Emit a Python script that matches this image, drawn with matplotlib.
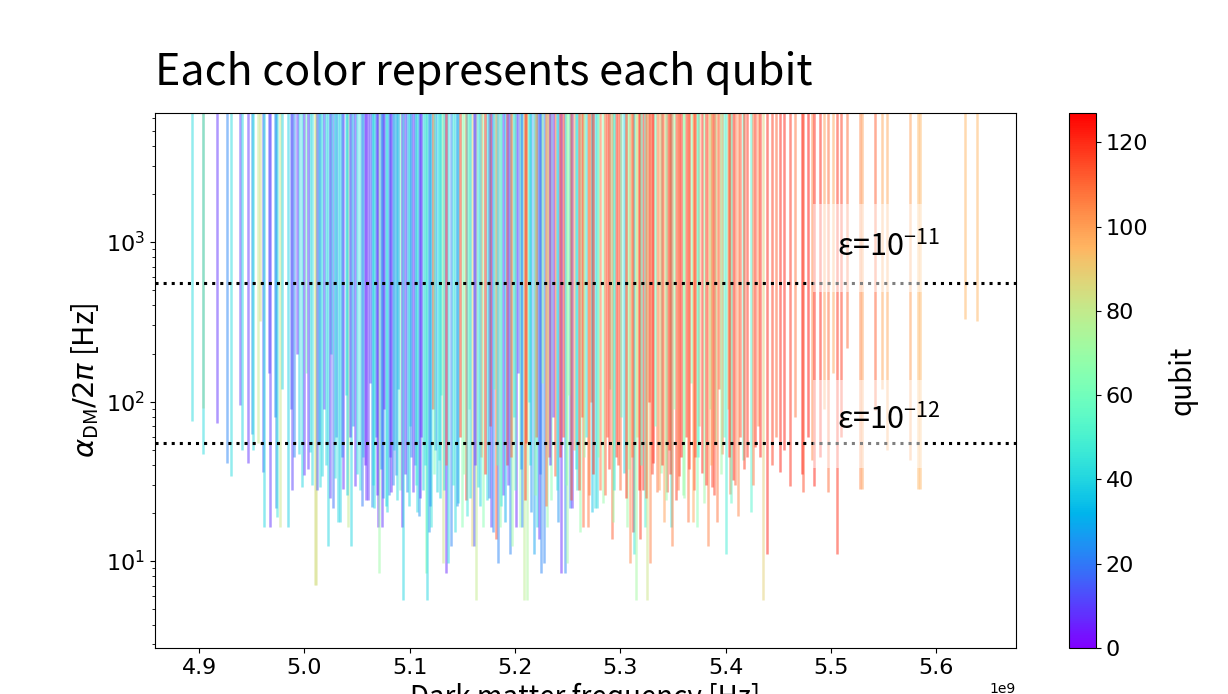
import numpy as np
import matplotlib.pyplot as plt
from matplotlib import colors, cm
from matplotlib.patches import Rectangle

plt.rcParams['font.family'] = ['DejaVu Sans']
KR = ['Noto Sans CJK KR', 'DejaVu Sans']

# dark matter frequency of each line [GHz]
freq_ghz = [
    4.8934, 4.9038, 4.9040, 4.9171, 4.9266, 4.9304, 4.9389, 4.9408, 4.9465, 4.9503,
    4.9513, 4.9560, 4.9608, 4.9617, 4.9674, 4.9731, 4.9740, 4.9769, 4.9845, 4.9883,
    4.9950, 4.9580, 4.9665, 4.9722, 4.9790, 4.9870, 4.9925,
    4.9978, 4.9997, 5.0054, 5.0102, 5.0110, 5.0121, 5.0149, 5.0168, 5.0225, 5.0273,
    5.0320, 5.0339, 5.0368, 5.0415, 5.0443, 5.0481, 5.0529, 5.0586, 5.0605, 5.0643,
    5.0662, 5.0700, 5.0709, 5.0738, 5.0747, 5.0785, 5.0804, 5.0823, 5.0871, 5.0909,
    5.0928, 5.0937, 5.0975, 5.1032, 5.1070, 5.1089, 5.1127, 5.1156, 5.1165, 5.1184,
    5.1203, 5.1260, 5.1279, 5.1317, 5.1327,
    5.0010, 5.0190, 5.0250, 5.0300, 5.0390, 5.0460, 5.0560, 5.0620, 5.0680, 5.0760,
    5.0850, 5.0890, 5.1000, 5.1050, 5.1110, 5.1220, 5.1240, 5.1300,
    5.1346, 5.1365, 5.1393, 5.1431, 5.1460, 5.1498, 5.1536, 5.1545, 5.1593, 5.1612,
    5.1631, 5.1650, 5.1697, 5.1735, 5.1773, 5.1792, 5.1821, 5.1840, 5.1859, 5.1887,
    5.1906, 5.1953, 5.1972, 5.2010, 5.2048, 5.2067, 5.2086, 5.2115, 5.2153, 5.2181,
    5.2210, 5.2229, 5.2248, 5.2276, 5.2305, 5.2343, 5.2381, 5.2409, 5.2438, 5.2476,
    5.2495, 5.2523, 5.2542, 5.2590, 5.2618, 5.2647, 5.2694,
    5.1480, 5.1560, 5.1680, 5.1760, 5.1800, 5.1920, 5.1990, 5.2030, 5.2100, 5.2130,
    5.2200, 5.2260, 5.2320, 5.2360, 5.2460, 5.2510, 5.2560, 5.2640, 5.2670, 5.2720,
    5.2732, 5.2761, 5.2780, 5.2808, 5.2837, 5.2922, 5.2932, 5.2998, 5.3036, 5.3065,
    5.3093, 5.3122, 5.3128, 5.3150, 5.3188, 5.3217, 5.3236, 5.3255, 5.3283, 5.3312,
    5.3350, 5.3387, 5.3416, 5.3444, 5.3482, 5.3492, 5.3530, 5.3558, 5.3596, 5.3644,
    5.3691, 5.3729, 5.3777, 5.3796, 5.3834, 5.3872, 5.3919, 5.3967, 5.4005, 5.4043,
    5.4071,
    5.2870, 5.2900, 5.2960, 5.3010, 5.3160, 5.3270, 5.3330, 5.3460, 5.3510, 5.3620,
    5.3670, 5.3710, 5.3750, 5.3850, 5.3900, 5.3940, 5.3990, 5.4020,
    5.4052, 5.4119, 5.4166, 5.4242, 5.4280, 5.4356, 5.4394, 5.4518, 5.4613, 5.4727,
    5.4736, 5.4821, 5.4840, 5.4973, 5.5059, 5.5154, 5.5277, 5.5296, 5.5420, 5.5486,
    5.5534, 5.5752, 5.5828, 5.5847, 5.6274, 5.6389,
    5.4140, 5.4200, 5.4310, 5.4440, 5.4480, 5.4560, 5.4660, 5.4780, 5.4900, 5.4940,
    5.5020, 5.5100,
    4.9905, 5.0035, 5.0075, 5.0135, 5.0205, 5.0240, 5.0290, 5.0355, 5.0405, 5.0430,
    5.0500, 5.0545, 5.0575, 5.0650, 5.0690, 5.0725, 5.0770, 5.0815, 5.0840, 5.0880,
    5.0955, 5.0990, 5.1015, 5.1060, 5.1100, 5.1145, 5.1195, 5.1235, 5.1290, 5.1340,
    5.1410, 5.1445, 5.1520, 5.1575, 5.1620, 5.1665, 5.1715, 5.1750, 5.1830, 5.1870,
    5.1935, 5.1960, 5.2000, 5.2055, 5.2095, 5.2140, 5.2190, 5.2240, 5.2290, 5.2330,
    5.2395, 5.2425, 5.2485, 5.2535, 5.2575, 5.2605, 5.2660, 5.2705, 5.2745, 5.2790,
    5.2855, 5.2890, 5.2945, 5.2975, 5.3050, 5.3080, 5.3110, 5.3175, 5.3200, 5.3245,
    5.3300, 5.3365, 5.3400, 5.3430, 5.3470, 5.3545, 5.3580, 5.3610, 5.3655, 5.3700,
    5.3740, 5.3810, 5.3860, 5.3890, 5.3955, 5.4030, 5.4090, 5.4180, 5.4260, 5.4330,
]

# lowest detectable alpha_DM/2pi of each line [Hz]
alpha_min = [
    75, 91, 47, 73, 41, 34, 95, 50, 41, 63,
    50, 55, 36, 16.3, 16.3, 21.5, 18.9, 16.3, 16.3, 28,
    47, 322, 150, 80, 120, 90, 200,
    29, 34.6, 48, 7.07, 7.07, 28, 29, 34, 12.4, 21.5,
    17.6, 17.6, 28.4, 16.3, 12.4, 29.5, 28, 24, 24, 21.8,
    21.5, 16.3, 8.4, 16.3, 24.8, 20.3, 26, 27, 34.6, 28,
    16.3, 5.7, 27, 27, 20.3, 19.2, 28, 8.4, 5.7, 15.2,
    16.3, 27, 43, 9.7, 28,
    150, 90, 200, 60, 110, 70, 45, 130, 60, 90,
    50, 120, 70, 40, 60, 90, 50, 110,
    8.4, 9.7, 12.4, 15.2, 23, 16.3, 24, 19.2, 12.4, 12.4,
    5.7, 29, 16.3, 24, 16.3, 15.2, 13.7, 9.7, 16.3, 26,
    17.6, 11, 12.4, 16.3, 16.3, 16.3, 5.7, 5.7, 20.3, 11,
    16.3, 13.7, 8.4, 9.7, 16.3, 24, 34, 17.6, 8.4, 8.4,
    9.7, 21.5, 21.5, 28, 15.2, 16.3, 16.3,
    60, 90, 45, 70, 120, 40, 80, 150, 55, 100,
    60, 130, 45, 80, 60, 110, 50, 80, 60, 100,
    20.3, 21.5, 21.5, 28, 23, 13.7, 17.6, 28, 35.6, 16.3,
    9.7, 15.2, 11, 5.7, 13.7, 28, 16.3, 5.7, 9.7, 41,
    27, 35.6, 17.6, 27, 16.3, 12.4, 24, 34, 26, 17.6,
    17.6, 16.3, 35.6, 23, 12.4, 29, 17.6, 47, 11, 26.5,
    32,
    60, 120, 45, 80, 60, 100, 70, 50, 90, 60,
    130, 45, 70, 90, 55, 120, 60, 90,
    23, 19.2, 43, 20.3, 52, 5.7, 11, 36, 29.5, 35,
    27, 43, 29.5, 27, 11, 215, 28.4, 28.4, 89, 120,
    50, 43, 28.4, 28.4, 331, 320,
    60, 45, 70, 40, 60, 50, 80, 60, 45, 90,
    150, 60,
    45, 38, 30, 55, 40, 25, 33, 45, 26, 60,
    35, 22, 40, 30, 26, 38, 22, 45, 30, 24,
    35, 22, 45, 30, 25, 40, 22, 35, 25, 40,
    30, 22, 35, 25, 40, 22, 35, 25, 40, 22,
    30, 45, 28, 38, 24, 40, 26, 35, 22, 40,
    28, 45, 30, 24, 38, 28, 45, 26, 35, 45,
    26, 38, 28, 40, 25, 38, 45, 28, 40, 25,
    35, 28, 40, 24, 35, 28, 45, 25, 38, 28,
    45, 30, 40, 26, 35, 45, 30, 38, 30, 45,
]

# qubit index of each line
qubit = [
    42, 90, 42, 8, 22, 42, 10, 40, 8, 25,
    42, 80, 15, 40, 8, 22, 45, 82, 38, 10,
    40, 85, 12, 25, 40, 15, 8,
    40, 8, 40, 84, 84, 14, 42, 40, 40, 18,
    40, 38, 8, 80, 40, 8, 45, 6, 8, 25,
    40, 6, 70, 8, 22, 42, 22, 6, 20, 60,
    5, 40, 25, 8, 42, 25, 40, 65, 40, 25,
    45, 40, 45, 82, 42,
    60, 12, 38, 22, 42, 25, 40, 12, 20, 6,
    40, 25, 42, 20, 8, 120, 25, 55,
    6, 40, 22, 42, 40, 65, 120, 45, 88, 14,
    80, 42, 65, 42, 10, 22, 115, 22, 68, 8,
    30, 22, 70, 6, 68, 22, 78, 74, 25, 28,
    40, 8, 22, 22, 68, 65, 112, 25, 6, 22,
    70, 22, 8, 45, 68, 110, 108,
    118, 60, 100, 118, 55, 120, 40, 12, 118, 45,
    120, 70, 112, 8, 118, 68, 100, 115, 42, 112,
    35, 42, 40, 108, 68, 112, 70, 110, 40, 70,
    105, 124, 45, 72, 118, 122, 50, 82, 106, 122,
    108, 68, 100, 120, 45, 106, 118, 120, 68, 108,
    98, 65, 122, 70, 106, 118, 108, 108, 48, 108,
    122,
    115, 70, 120, 55, 88, 118, 60, 112, 70, 120,
    65, 118, 100, 72, 75, 112, 55, 90,
    55, 105, 55, 52, 120, 88, 122, 122, 120, 124,
    115, 105, 122, 110, 120, 110, 105, 100, 112, 98,
    98, 100, 95, 95, 95, 95,
    115, 120, 105, 118, 112, 122, 108, 125, 122, 100,
    98, 118,
    22, 8, 42, 25, 40, 10, 42, 22, 38, 8,
    40, 20, 6, 42, 8, 25, 40, 10, 22, 42,
    8, 40, 20, 45, 8, 42, 25, 60, 40, 110,
    45, 25, 68, 42, 8, 40, 120, 22, 60, 45,
    10, 112, 55, 25, 118, 42, 70, 20, 110, 8,
    45, 120, 65, 112, 42, 118, 70, 108, 122, 65,
    112, 120, 45, 115, 120, 68, 108, 120, 55, 112,
    118, 100, 120, 68, 118, 108, 122, 70, 118, 112,
    50, 120, 100, 118, 70, 120, 112, 118, 108, 122,
]

eps_levels = [553.0, 55.3]
eps_labels = [r'ε=10$^{\mathdefault{-11}}$', r'ε=10$^{\mathdefault{-12}}$']
eps_text_y = [930, 76]

cmap = plt.get_cmap('rainbow')
norm = colors.Normalize(vmin=0, vmax=127)

fig = plt.figure(figsize=(12.28, 6.94), dpi=100)
ax = fig.add_axes([0.1262, 0.0663, 0.7012, 0.7709])
cax = fig.add_axes([0.8705, 0.0663, 0.0220, 0.7709])

# each line goes from its minimum alpha up past the top of the plot
ax.vlines(np.array(freq_ghz) * 1e9, alpha_min, 1e4,
          colors=cmap(norm(np.array(qubit))), alpha=0.5, lw=1.8)

for lvl in eps_levels:
    ax.axhline(lvl, color='k', ls=':', lw=2.2, zorder=3)

# translucent white boxes behind the epsilon labels
for y0 in [0.665, 0.336]:
    ax.add_patch(Rectangle((0.764, y0), 0.128, 0.165, transform=ax.transAxes,
                           facecolor='white', alpha=0.5, edgecolor='none', zorder=4))
for lab, ty in zip(eps_labels, eps_text_y):
    ax.text(5.506e9, ty, lab, fontsize=22, family=KR, va='center', zorder=5)

ax.set_yscale('log')
ax.set_xlim(4.858e9, 5.676e9)
ax.set_ylim(2.85, 6440)
ax.tick_params(labelsize=16)
ax.set_title('Each color represents each qubit', loc='left', fontsize=31,
             family=KR, pad=20)
ax.set_ylabel(r'$\alpha_{\mathdefault{DM}}/2\pi$ [Hz]', fontsize=21, family=KR)
ax.set_xlabel('Dark matter frequency [Hz]', fontsize=20, family=KR)

cb = fig.colorbar(cm.ScalarMappable(norm=norm, cmap=cmap), cax=cax)
cb.ax.tick_params(labelsize=16)
cb.set_label('qubit', fontsize=20, family=KR, labelpad=14)

fig.savefig('out.png', dpi=100)
